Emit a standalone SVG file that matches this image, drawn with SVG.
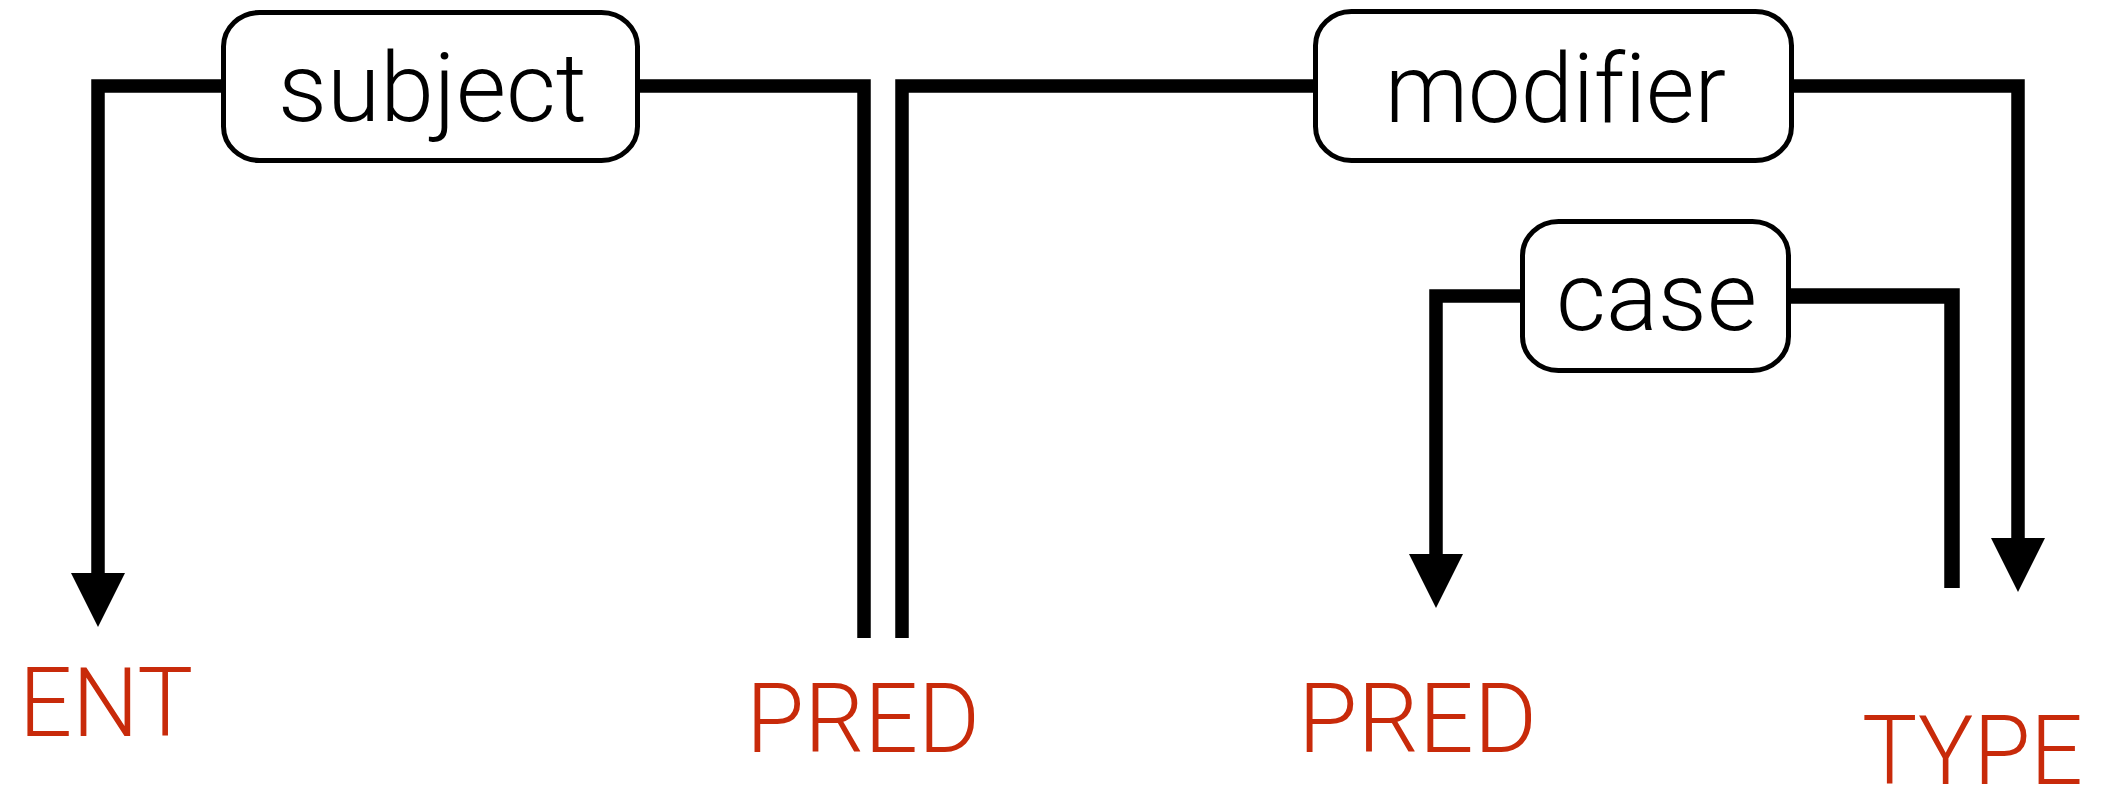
<svg xmlns="http://www.w3.org/2000/svg" width="2110" height="787" viewBox="0 0 2110 787">
<style>
.edge{fill:none;stroke:#000;stroke-width:13.5;stroke-linejoin:miter;stroke-linecap:butt}
.head{fill:#000}
.box{fill:#fff;stroke:#000;stroke-width:5}
.lbl{font-family:Roboto,"Liberation Sans",Arial,sans-serif;font-weight:300;font-size:96px;fill:#000;font-variant-ligatures:none;font-feature-settings:"liga" 0}
.tag{font-family:Roboto,"Liberation Sans",Arial,sans-serif;font-weight:300;font-size:96px;fill:#C82A0A}
</style>
<rect width="2110" height="787" fill="#fff"/>
<g id="connectors">
<path class="edge" d="M223,86 H98 V574"/>
<polygon class="head" points="71,573 125,573 98,627"/>
<path class="edge" d="M638,86 H864 V638"/>
<path class="edge" d="M1315,86 H902 V638"/>
<path class="edge" d="M1792,86 H2018 V539"/>
<polygon class="head" points="1991,538 2045,538 2018,592"/>
<path class="edge" d="M1522,296 H1436 V555"/>
<polygon class="head" points="1409,554 1463,554 1436,608"/>
<path class="edge" style="stroke-width:15.5" d="M1789,296 H1952 V588"/>
</g>
<g id="subject">
<rect class="box" x="223.5" y="12.5" width="414" height="148" rx="36" ry="34"/>
<text class="lbl" x="278" y="121" textLength="309" lengthAdjust="spacingAndGlyphs">subject</text>
</g>
<g id="modifier">
<rect class="box" x="1315.5" y="11.5" width="476" height="149" rx="36" ry="34"/>
<text class="lbl" x="1385" y="122" textLength="341" lengthAdjust="spacingAndGlyphs">modifier</text>
</g>
<g id="case">
<rect class="box" x="1522.5" y="221.5" width="266" height="149" rx="36" ry="34"/>
<text class="lbl" x="1556" y="330" textLength="201" lengthAdjust="spacingAndGlyphs">case</text>
</g>
<g id="ENT">
<text class="tag" x="19" y="736" textLength="174" lengthAdjust="spacingAndGlyphs">ENT</text>
</g>
<g id="PRED1">
<text class="tag" x="746" y="752" textLength="234" lengthAdjust="spacingAndGlyphs">PRED</text>
</g>
<g id="PRED2">
<text class="tag" x="1298" y="752" textLength="239" lengthAdjust="spacingAndGlyphs">PRED</text>
</g>
<g id="TYPE">
<text class="tag" x="1862" y="784" textLength="221" lengthAdjust="spacingAndGlyphs">TYPE</text>
</g>
</svg>
